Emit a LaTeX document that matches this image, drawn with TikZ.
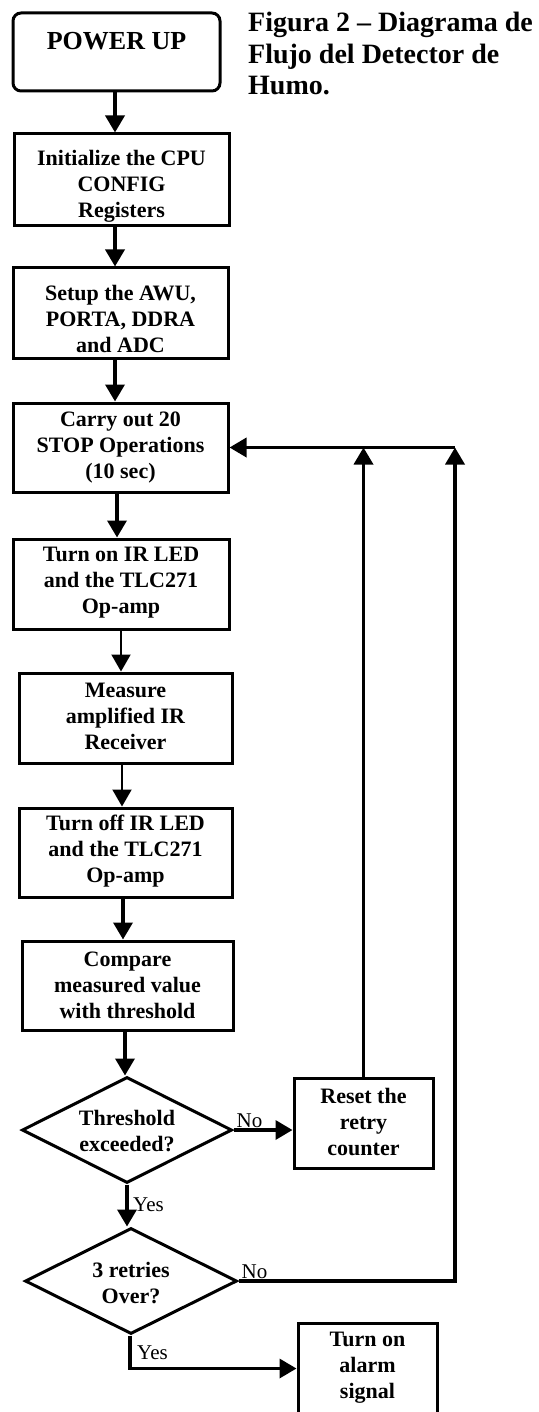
\documentclass[tikz,border=0pt]{standalone}
\usepackage{fontspec}
\setmainfont{Liberation Serif}
\usetikzlibrary{arrows.meta,shapes.geometric}
\newcommand\boxtext[2]{\raisebox{#1}[\height][\depth]{\begin{tabular}{@{}c@{}}#2\end{tabular}}}
\begin{document}
\begin{tikzpicture}[x=1pt,y=-1pt,
  proc/.style={draw,line width=3pt,minimum width=215pt,minimum height=90pt,inner sep=0pt,font=\bfseries\fontsize{22}{26}\selectfont},
  smallproc/.style={proc,minimum width=139pt},
  startbox/.style={draw,line width=3pt,rounded corners=8pt,minimum width=207pt,minimum height=78pt,inner sep=0pt,font=\bfseries\fontsize{26}{30}\selectfont},
  decision/.style={draw,line width=3pt,diamond,aspect=2,minimum width=211pt,minimum height=106pt,inner sep=0pt,font=\bfseries\fontsize{22}{26}\selectfont},
  arr/.style={line width=3.5pt,-{Triangle[length=17pt,width=19pt]}},
  thinarr/.style={arr,line width=2pt},
  lab/.style={inner sep=0pt,font=\fontsize{21}{24}\selectfont},
  title/.style={inner sep=0pt,align=left,font=\bfseries\fontsize{28}{31.5}\selectfont}
]
\fill[white] (0,0) rectangle (538,1412);
\useasboundingbox (0,0) rectangle (538,1412);

\node[title,anchor=north west] (ttl) at (248,12) {Figura 2 – Diagrama de\\Flujo del Detector de\\Humo.};

\node[startbox] (pu) at (116.5,52) {\raisebox{10.5pt}[\height][\depth]{POWER UP}};
\node[proc,minimum height=92pt] (init) at (121.5,180) {\boxtext{-6pt}{Initialize the CPU\\CONFIG\\Registers}};
\node[proc] (setup) at (120.5,313) {\boxtext{-8pt}{Setup the AWU,\\PORTA, DDRA\\and ADC}};
\node[proc,minimum height=89pt] (carry) at (120.5,447.5) {\boxtext{0pt}{Carry out 20\\STOP Operations\\(10 sec)}};
\node[proc,minimum width=216pt] (ton) at (121,584) {\boxtext{2pt}{Turn on IR LED\\and the TLC271\\Op-amp}};
\node[proc,minimum width=213pt] (meas) at (125.5,718) {\boxtext{0pt}{Measure\\amplified IR\\Receiver}};
\node[proc,minimum width=213pt,minimum height=89pt] (toff) at (125.5,852.5) {\boxtext{1.5pt}{Turn off IR LED\\and the TLC271\\Op-amp}};
\node[proc,minimum width=211pt,minimum height=89pt] (cmp) at (127.5,985.5) {\boxtext{-1.5pt}{Compare\\measured value\\with threshold}};
\node[decision,minimum width=210pt] (d1) at (127,1130) {\boxtext{-3.5pt}{Threshold\\exceeded?}};
\node[smallproc] (reset) at (363.5,1123) {\boxtext{-1pt}{Reset the\\retry\\counter}};
\node[decision,minimum width=212pt] (d2) at (131,1281) {\boxtext{-4.5pt}{3 retries\\Over?}};
\node[smallproc,minimum height=91pt] (alarm) at (367.5,1368.5) {\boxtext{1.5pt}{Turn on\\alarm\\signal}};
\coordinate (fbt) at (455,447.5);

\draw[arr] ([xshift=-1.5pt]pu.south) -- ([xshift=-1.5pt]pu.south |- init.north);
\draw[arr] ([xshift=-6.5pt]init.south) -- ([xshift=-6.5pt]init.south |- setup.north);
\draw[arr] ([xshift=-5.5pt]setup.south) -- ([xshift=-5.5pt]setup.south |- carry.north);
\draw[arr] ([xshift=-3.5pt]carry.south) -- ([xshift=-3.5pt]carry.south |- ton.north);
\draw[thinarr] (ton.south) -- (ton.south |- meas.north);
\draw[thinarr] ([xshift=-3.5pt]meas.south) -- ([xshift=-3.5pt]meas.south |- toff.north);
\draw[arr] ([xshift=-2.5pt]toff.south) -- ([xshift=-2.5pt]toff.south |- cmp.north);
\draw[arr] ([xshift=-2.5pt]cmp.south) -- ([xshift=-2.5pt]cmp.south |- d1.north);
\draw[arr] (d1.east) -- (d1.east -| reset.west);
\draw[arr] (d1.south) -- (d1.south |- d2.north);
\draw[arr] ([xshift=-1pt]d2.south) |- (alarm.west);
\draw[arr] (reset.north) -- (reset.north |- carry.east);
\draw[arr] (d2.east) -| (fbt);
\draw[arr] (fbt) -- (carry.east);

\node[lab,anchor=base west] at ([xshift=3pt,yshift=3pt]d1.east) {No};
\node[lab,anchor=base west] at ([xshift=6pt,yshift=-27pt]d1.south) {Yes};
\node[lab,anchor=base west] at ([xshift=3pt,yshift=3pt]d2.east) {No};
\node[lab,anchor=base west] at ([xshift=6pt,yshift=-24pt]d2.south) {Yes};
\end{tikzpicture}
\end{document}
